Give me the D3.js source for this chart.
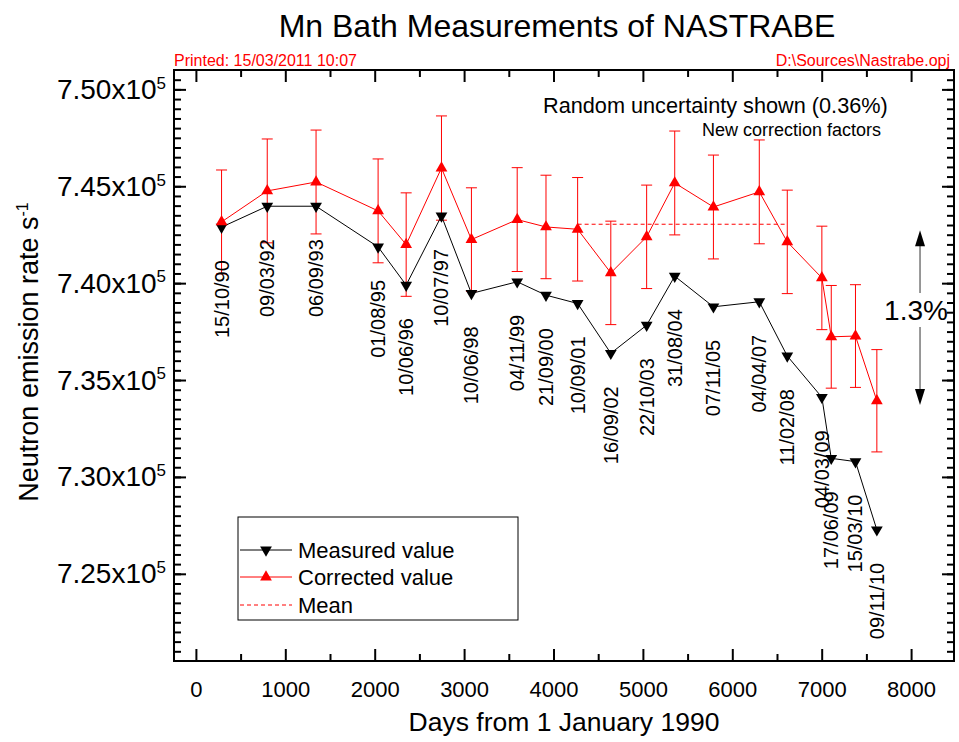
<!DOCTYPE html>
<html>
<head>
<meta charset="utf-8">
<script src="https://cdn.jsdelivr.net/npm/d3@7"></script>
<style>
  body { margin: 0; background: #fff; }
  svg { display: block; font-family: 'Liberation Sans', Arial, sans-serif; }
</style>
</head>
<body>
<script>
/*
 * Mn bath measurements of NASTRABE: measured and corrected neutron
 * emission rate against days from 1 January 1990.
 */

/*
 * Data (rates in units of 10^5 s^-1).
 */

const dateLabels = ['15/10/90', '09/03/92', '06/09/93', '01/08/95', '10/06/96',
  '10/07/97', '10/06/98', '04/11/99', '21/09/00', '10/09/01', '16/09/02',
  '22/10/03', '31/08/04', '07/11/05', '04/04/07', '11/02/08', '04/03/09',
  '17/06/09', '15/03/10', '09/11/10'];

const days = [287, 798, 1344, 2038, 2352, 2747, 3082, 3594, 3916, 4270,
  4641, 5042, 5356, 5789, 6302, 6615, 7002, 7107, 7378, 7617];

const measured = [7.4289, 7.4397, 7.4397, 7.4187, 7.3990, 7.4347, 7.3947,
  7.4007, 7.3938, 7.3895, 7.3638, 7.3783, 7.4036, 7.3878, 7.3904, 7.3624,
  7.3411, 7.3096, 7.3079, 7.2727];

const corrected = [7.4316, 7.4476, 7.4522, 7.4373, 7.4199, 7.4594, 7.4225,
  7.4328, 7.4290, 7.4278, 7.4053, 7.4239, 7.4517, 7.4393, 7.4471, 7.4213,
  7.4027, 7.3723, 7.3727, 7.3393];

const correctedErr = [0.0268, 0.0268, 0.0268, 0.0268, 0.0267, 0.0269, 0.0267,
  0.0268, 0.0267, 0.0267, 0.0267, 0.0267, 0.0268, 0.0268, 0.0268, 0.0267,
  0.0267, 0.0265, 0.0265, 0.0264];

const meanValue = 7.4304;
const meanDays = [4270, 6615];

// the "1.3%" span arrow
const spanDay = 8100;
const spanRange = [7.4273, 7.3371];

const xTicks = [0, 1000, 2000, 3000, 4000, 5000, 6000, 7000, 8000];
const yTicks = [7.25, 7.30, 7.35, 7.40, 7.45, 7.50];

const legendLabels = ['Measured value', 'Corrected value', 'Mean'];

/*
 * Layout.
 */

const CANVAS_WIDTH = 959;
const CANVAS_HEIGHT = 742;
const PLOT_LEFT = 174;
const PLOT_TOP = 70;
const PLOT_RIGHT = 954;
const PLOT_BOTTOM = 661;

const RED = '#ff0000';

const svg = d3.select('body')
  .append('svg')
    .attr('width', CANVAS_WIDTH)
    .attr('height', CANVAS_HEIGHT);

const x = d3.scaleLinear()
    .domain([-245, 8480])
    .range([PLOT_LEFT, PLOT_RIGHT]);

const y = d3.scaleLinear()
    .domain([7.205, 7.51])
    .range([PLOT_BOTTOM, PLOT_TOP]);

/*
 * Axes: all ticks point inwards, mirrored on top and right.
 */

const xMinor = xTicks.map(d => d + 500).filter(d => d < x.domain()[1]);
const yMinor = d3.range(7.21, 7.51, 0.005).filter(d => d < y.domain()[1]);

const styleAxis = g => {
  g.select('.domain').remove();
  g.selectAll('.tick line').attr('stroke', '#000').attr('stroke-width', 2);
  g.selectAll('.tick text').attr('fill', '#000');
};

// bottom
svg.append('g')
    .attr('transform', `translate(0, ${PLOT_BOTTOM})`)
    .call(d3.axisBottom(x).tickValues(xTicks).tickSize(-12).tickPadding(20)
      .tickFormat(d3.format('d')))
    .call(styleAxis)
    .selectAll('text')
      .attr('font-size', 22)
      .attr('font-family', null);

svg.append('g')
    .attr('transform', `translate(0, ${PLOT_BOTTOM})`)
    .call(d3.axisBottom(x).tickValues(xMinor).tickSize(-7).tickFormat(''))
    .call(styleAxis);

// top
svg.append('g')
    .attr('transform', `translate(0, ${PLOT_TOP})`)
    .call(d3.axisTop(x).tickValues(xTicks).tickSize(-12).tickFormat(''))
    .call(styleAxis);

svg.append('g')
    .attr('transform', `translate(0, ${PLOT_TOP})`)
    .call(d3.axisTop(x).tickValues(xMinor).tickSize(-7).tickFormat(''))
    .call(styleAxis);

// left
svg.append('g')
    .attr('transform', `translate(${PLOT_LEFT}, 0)`)
    .call(d3.axisLeft(y).tickValues(yTicks).tickSize(-12).tickPadding(8))
    .call(styleAxis)
    .selectAll('.tick text')
      .attr('font-size', 28)
      .attr('font-family', null)
      .each(function(d) {
        const t = d3.select(this);
        t.text(d.toFixed(2) + 'x10');
        t.append('tspan')
            .attr('dy', '-0.6em')
            .attr('font-size', 17)
            .text('5');
      });

svg.append('g')
    .attr('transform', `translate(${PLOT_LEFT}, 0)`)
    .call(d3.axisLeft(y).tickValues(yMinor).tickSize(-7).tickFormat(''))
    .call(styleAxis);

// right
svg.append('g')
    .attr('transform', `translate(${PLOT_RIGHT}, 0)`)
    .call(d3.axisRight(y).tickValues(yTicks).tickSize(-12).tickFormat(''))
    .call(styleAxis);

svg.append('g')
    .attr('transform', `translate(${PLOT_RIGHT}, 0)`)
    .call(d3.axisRight(y).tickValues(yMinor).tickSize(-7).tickFormat(''))
    .call(styleAxis);

// frame
svg.append('rect')
    .attr('x', PLOT_LEFT)
    .attr('y', PLOT_TOP)
    .attr('width', PLOT_RIGHT - PLOT_LEFT)
    .attr('height', PLOT_BOTTOM - PLOT_TOP)
    .attr('fill', 'none')
    .attr('stroke', '#000')
    .attr('stroke-width', 2);

/*
 * Titles and header texts.
 */

svg.append('text')
    .attr('x', 557)
    .attr('y', 37)
    .attr('text-anchor', 'middle')
    .attr('font-size', 32)
    .text('Mn Bath Measurements of NASTRABE');

svg.append('text')
    .attr('x', PLOT_LEFT)
    .attr('y', 66)
    .attr('font-size', 16)
    .attr('fill', RED)
    .text('Printed: 15/03/2011 10:07');

svg.append('text')
    .attr('x', 950)
    .attr('y', 66)
    .attr('text-anchor', 'end')
    .attr('font-size', 16)
    .attr('fill', RED)
    .text('D:\\Sources\\Nastrabe.opj');

svg.append('text')
    .attr('x', (PLOT_LEFT + PLOT_RIGHT) / 2)
    .attr('y', 731)
    .attr('text-anchor', 'middle')
    .attr('font-size', 26.5)
    .text('Days from 1 January 1990');

const yTitle = svg.append('text')
    .attr('transform', 'translate(38, 352) rotate(-90)')
    .attr('text-anchor', 'middle')
    .attr('font-size', 27)
    .text('Neutron emission rate s');
yTitle.append('tspan')
    .attr('dy', '-0.6em')
    .attr('font-size', 16)
    .text('-1');

/*
 * Data marks.
 */

const measuredData = days.map((d, i) => ({day: d, value: measured[i]}));
const correctedData = days.map((d, i) => ({
  day: d, value: corrected[i], err: correctedErr[i]
}));

const line = d3.line()
    .x(d => x(d.day))
    .y(d => y(d.value));

const triangle = d3.symbol().type(d3.symbolTriangle).size(60);

// error bars of the corrected values
const bars = svg.append('g')
    .attr('stroke', RED)
    .attr('stroke-width', 1)
    .attr('fill', 'none')
  .selectAll('g')
  .data(correctedData)
  .enter()
  .append('g');

bars.append('line')
    .attr('x1', d => x(d.day))
    .attr('x2', d => x(d.day))
    .attr('y1', d => y(d.value + d.err))
    .attr('y2', d => y(d.value - d.err));

[1, -1].forEach(s => {
  bars.append('line')
      .attr('x1', d => x(d.day) - 5.5)
      .attr('x2', d => x(d.day) + 5.5)
      .attr('y1', d => y(d.value + s * d.err))
      .attr('y2', d => y(d.value + s * d.err));
});

// mean line
svg.append('line')
    .attr('x1', x(meanDays[0]))
    .attr('x2', x(meanDays[1]))
    .attr('y1', y(meanValue))
    .attr('y2', y(meanValue))
    .attr('stroke', RED)
    .attr('stroke-dasharray', '4,3');

// measured
svg.append('path')
    .datum(measuredData)
    .attr('d', line)
    .attr('fill', 'none')
    .attr('stroke', '#000')
    .attr('stroke-width', 1);

svg.append('g')
  .selectAll('path')
  .data(measuredData)
  .enter()
  .append('path')
    .attr('d', triangle)
    .attr('transform', d => `translate(${x(d.day)}, ${y(d.value)}) rotate(180)`)
    .attr('fill', '#000');

// corrected
svg.append('path')
    .datum(correctedData)
    .attr('d', line)
    .attr('fill', 'none')
    .attr('stroke', RED)
    .attr('stroke-width', 1);

svg.append('g')
  .selectAll('path')
  .data(correctedData)
  .enter()
  .append('path')
    .attr('d', triangle)
    .attr('transform', d => `translate(${x(d.day)}, ${y(d.value)})`)
    .attr('fill', RED);

// date labels below the measured points
svg.append('g')
  .selectAll('text')
  .data(measuredData)
  .enter()
  .append('text')
    .attr('transform', d => `translate(${x(d.day)}, ${y(d.value) + 33}) rotate(-90)`)
    .attr('dy', '0.35em')
    .attr('text-anchor', 'end')
    .attr('font-size', 20)
    .text((d, i) => dateLabels[i]);

/*
 * Annotations.
 */

svg.append('text')
    .attr('x', 543)
    .attr('y', 113)
    .attr('font-size', 21.7)
    .text('Random uncertainty shown (0.36%)');

svg.append('text')
    .attr('x', 702)
    .attr('y', 136)
    .attr('font-size', 18)
    .text('New correction factors');

const spanX = x(spanDay);
const spanTop = y(spanRange[0]);
const spanBot = y(spanRange[1]);

svg.append('text')
    .attr('x', spanX - 4)
    .attr('y', 320)
    .attr('text-anchor', 'middle')
    .attr('font-size', 28)
    .text('1.3%');

const arrow = svg.append('g');
arrow.append('line')
    .attr('x1', spanX).attr('x2', spanX)
    .attr('y1', spanTop + 10).attr('y2', 293)
    .attr('stroke', '#333');
arrow.append('line')
    .attr('x1', spanX).attr('x2', spanX)
    .attr('y1', 327).attr('y2', spanBot - 10)
    .attr('stroke', '#333');
arrow.append('path')
    .attr('d', `M${spanX},${spanTop} l-5,16 l10,0 Z`)
    .attr('fill', '#000');
arrow.append('path')
    .attr('d', `M${spanX},${spanBot} l-5,-16 l10,0 Z`)
    .attr('fill', '#000');

/*
 * Legend.
 */

const legend = svg.append('g')
    .attr('transform', 'translate(238, 517)');

legend.append('rect')
    .attr('width', 280)
    .attr('height', 103)
    .attr('fill', '#fff')
    .attr('stroke', '#000')
    .attr('stroke-width', 1);

const rowY = [33, 60, 88];

legend.selectAll('.legend-label')
  .data(legendLabels)
  .enter()
  .append('text')
    .attr('class', 'legend-label')
    .attr('x', 60)
    .attr('y', (d, i) => rowY[i])
    .attr('dy', '0.35em')
    .attr('font-size', 22)
    .text(d => d);

[['#000', null], [RED, null], [RED, '4,3']].forEach(([color, dash], i) => {
  legend.append('line')
      .attr('x1', 2).attr('x2', 54)
      .attr('y1', rowY[i]).attr('y2', rowY[i])
      .attr('stroke', color)
      .attr('stroke-dasharray', dash);
});

legend.append('path')
    .attr('d', triangle)
    .attr('transform', `translate(28, ${rowY[0]}) rotate(180)`)
    .attr('fill', '#000');

legend.append('path')
    .attr('d', triangle)
    .attr('transform', `translate(28, ${rowY[1]})`)
    .attr('fill', RED);
</script>
</body>
</html>
